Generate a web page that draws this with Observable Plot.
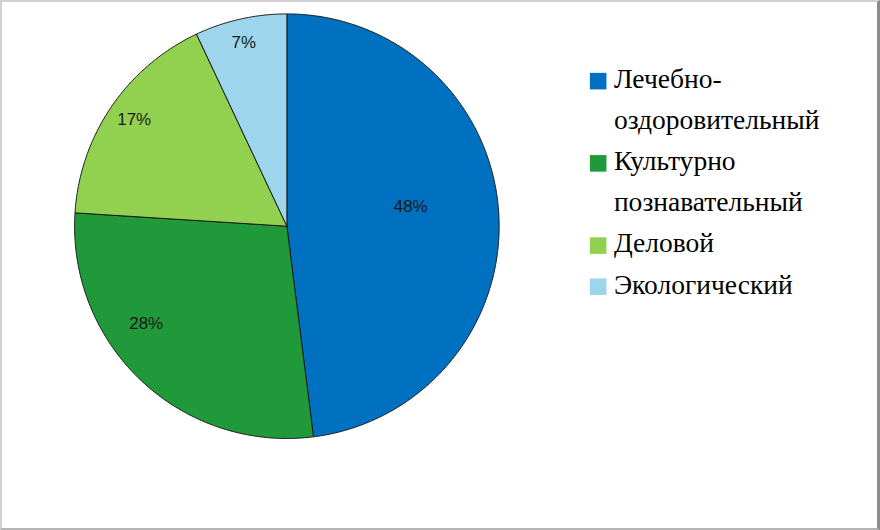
<!DOCTYPE html>
<html>
<head>
<meta charset="utf-8">
<script src="https://cdn.jsdelivr.net/npm/d3@7"></script>
<script src="https://cdn.jsdelivr.net/npm/@observablehq/plot@0.6"></script>
<style>
  html, body { margin: 0; padding: 0; background: #fff; }
  #frame {
    position: relative; width: 880px; height: 530px; box-sizing: border-box;
    border-top: 2px solid #d0d0d0; border-left: 2px solid #d0d0d0;
    border-right: 3px solid #8c8c8c; border-bottom: 2px solid #b4b4b4;
    overflow: hidden; background: #fff;
  }
  #chart { position: absolute; left: -2px; top: -2px; }
  #legend { position: absolute; left: 576px; top: -2px; }
  #legend text { font-family: "Liberation Serif", "Times New Roman", serif !important; }
</style>
</head>
<body>
<div id="frame">
  <div id="chart"></div>
  <div id="legend"></div>
</div>
<script>
// Data
const categories = ["Лечебно-оздоровительный", "Культурно познавательный", "Деловой", "Экологический"];
const legendLines = [["Лечебно-", "оздоровительный"], ["Культурно", "познавательный"], ["Деловой"], ["Экологический"]];
const values = [48, 28, 17, 7];
const labels = ["48%", "28%", "17%", "7%"];
const colors = ["#0070C0", "#20993A", "#92D050", "#9DD6EC"];

// layout tweak: label placement (fraction along slice, fraction of radius), like Excel best fit
const labelAlong = [0.47, 0.62, 0.51, 0.475];
const labelRadius = [0.59, 0.806, 0.876, 0.887];

const pie = d3.pie().sort(null).value(d => d)(values);

// Build slice outlines in unit coordinates (angle 0 at top, clockwise)
const pts = [];
pie.forEach((p, i) => {
  const n = Math.max(8, Math.ceil((p.endAngle - p.startAngle) / (Math.PI / 360)));
  pts.push({cat: categories[i], x: 0, y: 0});
  for (let k = 0; k <= n; k++) {
    const a = p.startAngle + (p.endAngle - p.startAngle) * k / n;
    pts.push({cat: categories[i], x: Math.sin(a), y: Math.cos(a)});
  }
  pts.push({cat: categories[i], x: 0, y: 0});
});

const labelData = pie.map((p, i) => {
  const a = p.startAngle + (p.endAngle - p.startAngle) * labelAlong[i];
  return {text: labels[i], x: Math.sin(a) * labelRadius[i], y: Math.cos(a) * labelRadius[i]};
});

const chart = Plot.plot({
  width: 882, height: 532,
  marginLeft: 74.5, marginRight: 380.5, marginTop: 13.5, marginBottom: 91.5,
  x: {domain: [-1, 1], axis: null},
  y: {domain: [-1, 1], axis: null},
  color: {type: "ordinal", domain: categories, range: colors},
  marks: [
    Plot.line(pts, {x: "x", y: "y", z: "cat", fill: "cat", stroke: "#1a1a1a", strokeWidth: 1, curve: "linear"}),
    Plot.text(labelData, {x: "x", y: "y", text: "text", fill: "#1a1a1a", fontSize: 17,
      fontFamily: "Liberation Sans, Arial, sans-serif"})
  ]
});
document.getElementById("chart").appendChild(chart);

// Legend rows: one row per text line; swatch on the first line of each entry
const rows = [];
const swatches = [];
let r = 0;
legendLines.forEach((lines, i) => {
  swatches.push({row: r, cat: categories[i]});
  lines.forEach(line => { rows.push({row: r, text: line}); r++; });
});

const legendPlot = Plot.plot({
  width: 304, height: 532,
  margin: 0,
  x: {domain: [0, 1], range: [20, 304], axis: null},
  y: {domain: [0, 5], range: [80, 289], axis: null},
  color: {type: "ordinal", domain: categories, range: colors},
  marks: [
    Plot.dot(swatches, {x: 0, y: "row", symbol: "square", fill: "cat", r: 9.5, dy: 2}),
    Plot.text(rows, {x: 0, y: "row", text: "text", textAnchor: "start", dx: 16, fontSize: 28,
      fill: "#000", fontFamily: "Liberation Serif"})
  ]
});
document.getElementById("legend").appendChild(legendPlot);
</script>
</body>
</html>
